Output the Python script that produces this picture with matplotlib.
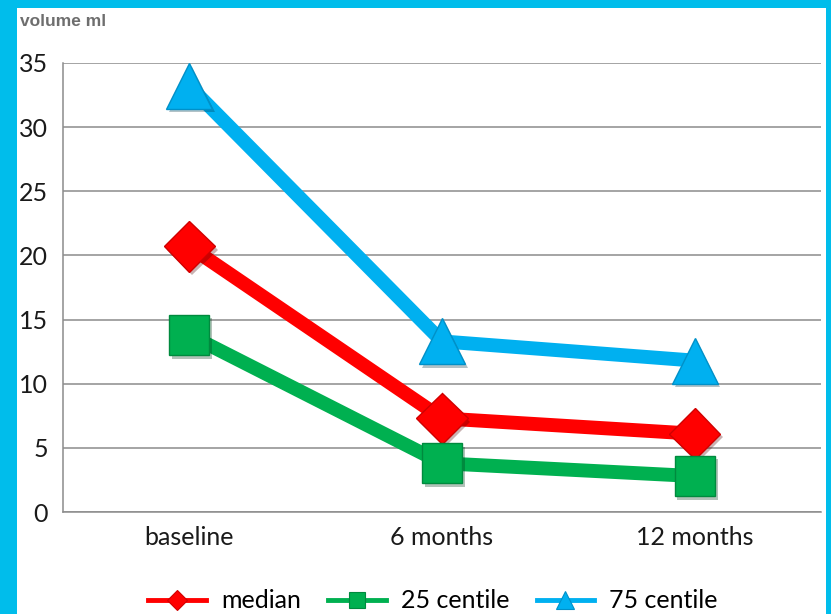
import numpy as np
import matplotlib.pyplot as plt
from matplotlib.patches import Rectangle
from matplotlib.lines import Line2D
import matplotlib.patheffects as pe

# data
periods = ["baseline", "6 months", "12 months"]
median = [20.7, 7.3, 6.1]
c25 = [13.8, 3.8, 2.8]
c75 = [33.2, 13.3, 11.8]

fig = plt.figure(figsize=(8.31, 6.14), dpi=100)
fig.patch.set_facecolor('#00BDEB')
fig.patches.append(Rectangle((17/831, 0), (826-17)/831, (614-8)/614,
                             transform=fig.transFigure, facecolor='white',
                             edgecolor='none', zorder=-10))

ax = fig.add_axes([63/831, (614-512)/614, (821-63)/831, 449/614])
ax.set_facecolor('none')
ax.set_zorder(2)

font = ['Lato', 'DejaVu Sans']
x = np.arange(len(periods))
shadow = [pe.SimplePatchShadow(offset=(2, -2.5), alpha=0.3), pe.Normal()]

series = [
    (median, 'median', '#FF0000', 'D', 26, '#D00000', 10),
    (c25, '25 centile', '#00B050', 's', 29, '#008A3E', 11),
    (c75, '75 centile', '#00B0F0', '^', 33, '#0090C8', 13),
]
handles = []
for vals, name, col, mk, ms, edge, lms in series:
    ax.plot(x, vals, color=col, lw=10, solid_capstyle='butt', zorder=3)
    ax.plot(x, vals, ls='none', marker=mk, markersize=ms,
            markerfacecolor=col, markeredgecolor=edge, markeredgewidth=1,
            zorder=4, path_effects=shadow)
    handles.append(Line2D([], [], color=col, lw=3.5, marker=mk, markersize=lms,
                          markerfacecolor=col, markeredgecolor=edge,
                          markeredgewidth=0.8, label=name))

ax.set_xlim(-0.5, 2.5)
ax.set_ylim(0, 35)
ax.set_yticks(np.arange(0, 36, 5))
ax.set_xticks(x)
ax.set_xticklabels(periods)
ax.grid(axis='y', color='#8C8C8C', lw=1.1)
ax.set_axisbelow(True)
for s in ['top', 'right']:
    ax.spines[s].set_visible(False)
for s in ['left', 'bottom']:
    ax.spines[s].set_color('#8C8C8C')
    ax.spines[s].set_linewidth(1.1)
ax.tick_params(length=0, labelsize=18, labelcolor='#1A1A1A')
ax.tick_params(axis='x', pad=10)
ax.tick_params(axis='y', pad=11)
for lab in ax.get_xticklabels() + ax.get_yticklabels():
    lab.set_family(font)

fig.text(20/831, 1 - 21/614, 'volume ml', fontsize=12.5, fontweight='bold',
         color='#6E6E6E', va='center', ha='left', family='Liberation Sans')

fig.legend(handles=handles, loc='center', ncol=3, frameon=False,
           bbox_to_anchor=(433/831, 1 - 601/614), prop={'family': font, 'size': 18},
           handlelength=2.3, columnspacing=1.1, handletextpad=0.6)

fig.savefig('out.png', dpi=100, facecolor=fig.get_facecolor())
